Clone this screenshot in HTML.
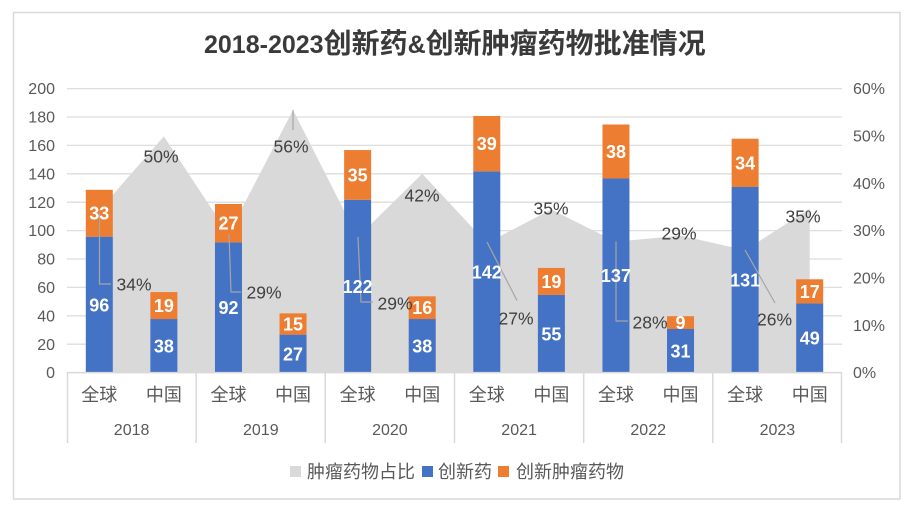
<!DOCTYPE html>
<html><head><meta charset="utf-8"><style>
html,body{margin:0;padding:0;background:#fff;}
svg{display:block;}
text{font-family:"Liberation Sans","Noto Sans CJK SC",sans-serif;}
</style></head><body>
<svg width="916" height="513" viewBox="0 0 916 513" xmlns="http://www.w3.org/2000/svg">
<rect x="0" y="0" width="916" height="513" fill="#fff"/>
<rect x="13.5" y="12.5" width="886.5" height="486.5" fill="none" stroke="#d9d9d9" stroke-width="1.5"/>

<!-- title -->
<text x="204" y="53" fill="#3a3a3a" font-weight="bold"><tspan font-size="25">2018-2023</tspan><tspan font-size="28" font-family="Noto Sans CJK SC, sans-serif">创新药</tspan><tspan font-size="25">&amp;</tspan><tspan font-size="28" font-family="Noto Sans CJK SC, sans-serif">创新肿瘤药物批准情况</tspan></text>

<!-- gridlines -->
<g stroke="#dedede" stroke-width="1.3">
<line x1="67" x2="842" y1="88.6" y2="88.6"/>
<line x1="67" x2="842" y1="117" y2="117"/>
<line x1="67" x2="842" y1="145.4" y2="145.4"/>
<line x1="67" x2="842" y1="173.8" y2="173.8"/>
<line x1="67" x2="842" y1="202.2" y2="202.2"/>
<line x1="67" x2="842" y1="230.6" y2="230.6"/>
<line x1="67" x2="842" y1="259" y2="259"/>
<line x1="67" x2="842" y1="287.4" y2="287.4"/>
<line x1="67" x2="842" y1="315.8" y2="315.8"/>
<line x1="67" x2="842" y1="344.2" y2="344.2"/>
</g>

<!-- area -->
<polygon fill="#d9d9d9" points="99.29,210.29 163.88,136.33 228.46,234.09 293.04,110.03 357.63,237.21 422.21,173.70 486.79,243.00 551.38,209.48 615.96,241.71 680.54,235.58 745.13,250.15 809.71,208.78 809.71,372.6 99.29,372.6"/>

<!-- bars -->
<g>
<rect x="85.79" y="236.68" width="27" height="135.92" fill="#4472c4"/><rect x="85.79" y="189.82" width="27" height="46.86" fill="#ed7d31"/>
<rect x="150.38" y="319.04" width="27" height="53.56" fill="#4472c4"/><rect x="150.38" y="292.06" width="27" height="26.98" fill="#ed7d31"/>
<rect x="214.96" y="242.36" width="27" height="130.24" fill="#4472c4"/><rect x="214.96" y="204.02" width="27" height="38.34" fill="#ed7d31"/>
<rect x="279.54" y="334.66" width="27" height="37.94" fill="#4472c4"/><rect x="279.54" y="313.36" width="27" height="21.3" fill="#ed7d31"/>
<rect x="344.13" y="199.76" width="27" height="172.84" fill="#4472c4"/><rect x="344.13" y="150.06" width="27" height="49.7" fill="#ed7d31"/>
<rect x="408.71" y="319.04" width="27" height="53.56" fill="#4472c4"/><rect x="408.71" y="296.32" width="27" height="22.72" fill="#ed7d31"/>
<rect x="473.29" y="171.36" width="27" height="201.24" fill="#4472c4"/><rect x="473.29" y="115.98" width="27" height="55.38" fill="#ed7d31"/>
<rect x="537.88" y="294.9" width="27" height="77.7" fill="#4472c4"/><rect x="537.88" y="267.92" width="27" height="26.98" fill="#ed7d31"/>
<rect x="602.46" y="178.46" width="27" height="194.14" fill="#4472c4"/><rect x="602.46" y="124.5" width="27" height="53.96" fill="#ed7d31"/>
<rect x="667.04" y="328.98" width="27" height="43.62" fill="#4472c4"/><rect x="667.04" y="316.2" width="27" height="12.78" fill="#ed7d31"/>
<rect x="731.63" y="186.98" width="27" height="185.62" fill="#4472c4"/><rect x="731.63" y="138.7" width="27" height="48.28" fill="#ed7d31"/>
<rect x="796.21" y="303.42" width="27" height="69.18" fill="#4472c4"/><rect x="796.21" y="279.28" width="27" height="24.14" fill="#ed7d31"/>
</g>

<!-- category axis -->
<g stroke="#d9d9d9" stroke-width="1.5">
<line x1="67" x2="842" y1="372.6" y2="372.6"/>
<line x1="67.5" x2="67.5" y1="372.6" y2="443"/>
<line x1="196.2" x2="196.2" y1="372.6" y2="443"/>
<line x1="325.3" x2="325.3" y1="372.6" y2="443"/>
<line x1="454.5" x2="454.5" y1="372.6" y2="443"/>
<line x1="583.7" x2="583.7" y1="372.6" y2="443"/>
<line x1="712.8" x2="712.8" y1="372.6" y2="443"/>
<line x1="841.5" x2="841.5" y1="372.6" y2="443"/>
</g>

<!-- leader lines -->
<g stroke="#a6a6a6" stroke-width="1.2" fill="none">
<polyline points="99.5,212 99.5,284 111,284"/>
<polyline points="229,234 231,292 241,292"/>
<polyline points="293,110 293,130"/>
<polyline points="358,237 361,302 373,302"/>
<polyline points="487,242 517,300.5"/>
<polyline points="616,241.5 616,321 628,321"/>
<polyline points="745,250 775,303"/>
</g>

<!-- left axis labels -->
<g font-size="16" fill="#595959" text-anchor="end">
<text x="55" y="94.2">200</text>
<text x="55" y="122.6">180</text>
<text x="55" y="151">160</text>
<text x="55" y="179.4">140</text>
<text x="55" y="207.8">120</text>
<text x="55" y="236.2">100</text>
<text x="55" y="264.6">80</text>
<text x="55" y="293">60</text>
<text x="55" y="321.4">40</text>
<text x="55" y="349.8">20</text>
<text x="55" y="378.2">0</text>
</g>
<!-- right axis labels -->
<g font-size="16" fill="#595959" text-anchor="start">
<text x="853" y="94.2">60%</text>
<text x="853" y="141.5">50%</text>
<text x="853" y="188.8">40%</text>
<text x="853" y="236.2">30%</text>
<text x="853" y="283.5">20%</text>
<text x="853" y="330.9">10%</text>
<text x="853" y="378.2">0%</text>
</g>

<!-- bar labels -->
<g font-size="18" font-weight="bold" fill="#fff" text-anchor="middle">
<text x="99.29" y="311.3">96</text><text x="99.29" y="219.7">33</text>
<text x="163.88" y="352.5">38</text><text x="163.88" y="312">19</text>
<text x="228.46" y="314.2">92</text><text x="228.46" y="229.7">27</text>
<text x="293.04" y="360.3">27</text><text x="293.04" y="330.5">15</text>
<text x="357.63" y="292.9">122</text><text x="357.63" y="181.4">35</text>
<text x="422.21" y="352.5">38</text><text x="422.21" y="314.2">16</text>
<text x="486.79" y="278.7">142</text><text x="486.79" y="150.2">39</text>
<text x="551.38" y="340.4">55</text><text x="551.38" y="287.9">19</text>
<text x="615.96" y="282.2">137</text><text x="615.96" y="158">38</text>
<text x="680.54" y="357.5">31</text><text x="680.54" y="329.1">9</text>
<text x="745.13" y="286.5">131</text><text x="745.13" y="169.3">34</text>
<text x="809.71" y="344.7">49</text><text x="809.71" y="297.8">17</text>
</g>

<!-- percent labels -->
<g font-size="17.5" fill="#404040" text-anchor="middle">
<text x="134" y="290.3">34%</text>
<text x="161" y="162.3">50%</text>
<text x="264" y="298.3">29%</text>
<text x="291" y="152.3">56%</text>
<text x="395" y="309.3">29%</text>
<text x="422" y="201.3">42%</text>
<text x="516" y="324.3">27%</text>
<text x="551" y="214.3">35%</text>
<text x="650" y="328.3">28%</text>
<text x="679" y="239.3">29%</text>
<text x="774.5" y="325.3">26%</text>
<text x="803" y="222.3">35%</text>
</g>

<!-- category labels -->
<g font-size="18" fill="#595959" text-anchor="middle">
<text x="99.29" y="401">全球</text><text x="163.88" y="401">中国</text>
<text x="228.46" y="401">全球</text><text x="293.04" y="401">中国</text>
<text x="357.63" y="401">全球</text><text x="422.21" y="401">中国</text>
<text x="486.79" y="401">全球</text><text x="551.38" y="401">中国</text>
<text x="615.96" y="401">全球</text><text x="680.54" y="401">中国</text>
<text x="745.13" y="401">全球</text><text x="809.71" y="401">中国</text>
</g>
<g font-size="16" fill="#595959" text-anchor="middle">
<text x="131.6" y="435">2018</text>
<text x="260.8" y="435">2019</text>
<text x="389.9" y="435">2020</text>
<text x="519.1" y="435">2021</text>
<text x="648.2" y="435">2022</text>
<text x="777.4" y="435">2023</text>
</g>

<!-- legend -->
<rect x="290" y="466" width="11" height="11" fill="#d9d9d9"/>
<text x="307" y="478" font-size="18" fill="#595959">肿瘤药物占比</text>
<rect x="422" y="466" width="11" height="11" fill="#4472c4"/>
<text x="438" y="478" font-size="18" fill="#595959">创新药</text>
<rect x="498" y="466" width="11" height="11" fill="#ed7d31"/>
<text x="516" y="478" font-size="18" fill="#595959">创新肿瘤药物</text>
</svg>
</body></html>
